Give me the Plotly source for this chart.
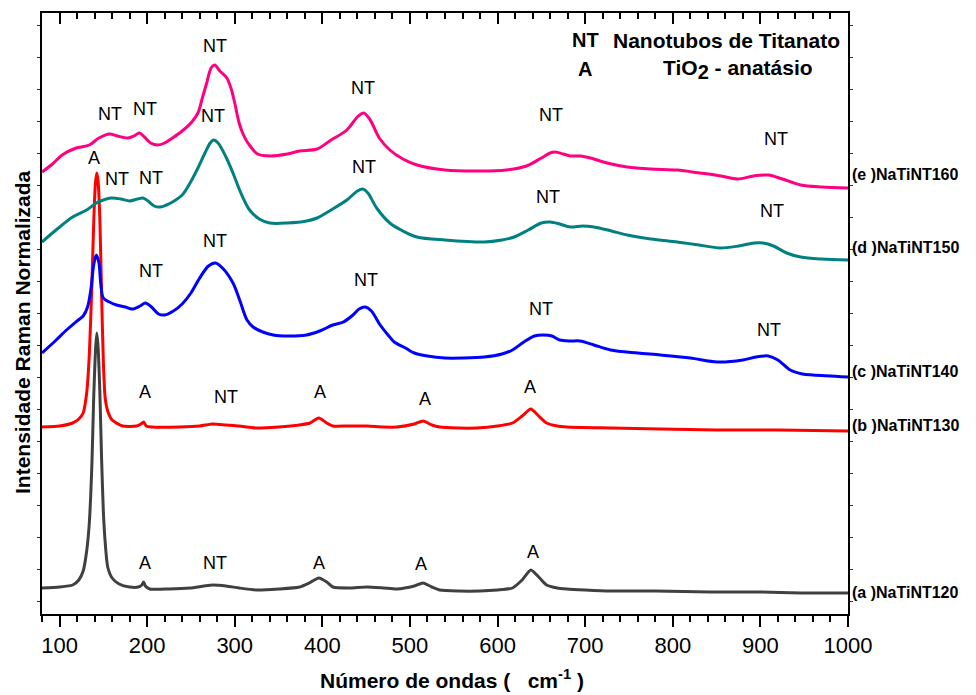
import plotly.graph_objects as go

# Raman shift (cm-1) and stacked, normalized intensities (arbitrary offsets)
x_a = [80, 100, 115, 122, 127, 131, 134, 137, 139, 141, 142.5, 144, 146, 148, 150, 152, 155, 160, 168, 180,
       190, 194, 196, 198, 203, 225, 249, 265, 275, 290, 305, 325, 350, 374, 385, 396, 405, 412, 430, 451,
       470, 485, 505, 515, 525, 534, 555, 580, 600, 617, 628, 638, 648, 656, 668, 679, 700, 729, 780, 843,
       900, 946, 1000]
y_a = [25, 26, 28, 33, 42, 62, 90, 150, 215, 262, 280, 266, 222, 155, 102, 72, 46, 35, 29, 26,
       26, 28, 31, 27, 24, 24, 25, 27, 28, 27, 25, 23, 24, 26, 30, 35, 31, 26, 25, 26,
       25, 24, 27, 30, 26, 23, 22, 22, 23, 25, 33, 43, 35, 28, 25, 24, 23, 22, 22, 21,
       21, 20, 20]

x_b = [80, 100, 115, 122, 127, 131, 134, 137, 139, 141, 142.5, 144, 146, 148, 150, 152, 155, 160, 172, 188,
       193, 196, 199, 205, 237, 260, 275, 290, 305, 325, 350, 374, 386, 396, 405, 412, 430, 451, 470, 485,
       505, 515, 525, 534, 555, 576, 600, 617, 628, 638, 647, 656, 668, 679, 729, 786, 850, 920, 1000]
y_b = [186, 187, 190, 194, 200, 220, 258, 330, 390, 430, 440, 432, 395, 320, 252, 216, 202, 193, 187, 187,
       189, 191, 187, 186, 186, 187, 189, 188, 187, 185, 186, 188, 190, 195, 190, 187, 187, 187, 186, 186,
       189, 192, 188, 186, 185, 185, 187, 190, 197, 204, 197, 190, 187, 186, 185, 184, 183, 183, 182]

x_c = [80, 95, 108, 120, 127, 132, 136, 139, 142, 145, 147, 150, 157, 165, 175, 183, 192, 198, 205, 213,
       220, 230, 240, 250, 260, 270, 278, 286, 298, 306, 314, 321, 332, 344, 360, 382, 397, 412, 424, 435,
       442, 449, 456, 466, 475, 482, 495, 505, 520, 540, 560, 585, 605, 617, 630, 642, 652, 662, 671, 683,
       694, 710, 729, 760, 786, 820, 851, 880, 895, 909, 920, 934, 948, 960, 1000]
y_c = [260, 272, 283, 292, 297, 306, 325, 348, 358, 350, 330, 315, 311, 308, 306, 304, 307, 310, 306, 299,
       298, 302, 309, 320, 335, 347, 350, 345, 330, 312, 293, 286, 281, 278, 277, 278, 282, 288, 291, 298,
       304, 306, 302, 288, 278, 271, 265, 260, 257, 255, 255, 256, 259, 263, 271, 277, 278, 277, 273, 272,
       272, 268, 263, 260, 258, 255, 251, 253, 256, 257, 253, 243, 239, 238, 236]

x_d = [80, 96, 115, 131, 142, 150, 159, 170, 180, 189, 195, 201, 208, 215, 222, 229, 240, 249, 258, 266,
       272, 276, 281, 290, 298, 307, 317, 328, 340, 360, 382, 394, 410, 428, 440, 446, 452, 462, 477, 492,
       508, 540, 585, 605, 619, 635, 650, 660, 671, 683, 697, 710, 730, 748, 775, 805, 830, 854, 875, 893,
       903, 915, 930, 946, 970, 1000]
y_d = [371, 383, 396, 403, 410, 413, 415, 414, 412, 414, 415, 412, 407, 406, 408, 411, 418, 430, 445, 460,
       470, 473, 470, 456, 440, 420, 403, 394, 390, 390, 392, 395, 403, 413, 422, 424, 420, 405, 390, 382,
       376, 373, 371, 373, 376, 383, 390, 391, 389, 386, 387, 386, 382, 378, 374, 371, 368, 365, 367, 370,
       370, 367, 360, 356, 354, 353]

x_e = [80, 92, 103, 119, 134, 145, 157, 166, 178, 185, 191, 197, 204, 212, 220, 229, 240, 251, 258, 263,
       268, 273, 277, 283, 291, 296, 300, 305, 310, 315, 326, 340, 360, 374, 394, 410, 428, 440, 447, 454,
       465, 477, 492, 508, 540, 580, 610, 633, 650, 660, 666, 675, 683, 695, 706, 725, 748, 775, 805, 831,
       855, 874, 892, 909, 925, 946, 970, 1000]
y_e = [441, 449, 458, 465, 468, 475, 479, 477, 475, 477, 480, 476, 470, 468, 470, 475, 482, 491, 500, 515,
       530, 545, 548, 542, 535, 524, 510, 490, 478, 470, 459, 457, 459, 462, 464, 473, 483, 496, 500, 494,
       475, 463, 454, 448, 443, 442, 443, 447, 455, 460, 461, 459, 457, 457, 455, 450, 446, 444, 443, 440,
       437, 434, 437, 438, 434, 428, 426, 425]

series_x = [x_a, x_b, x_c, x_d, x_e]
series_y = [y_a, y_b, y_c, y_d, y_e]
series_colors = ["#404040", "#FF0000", "#0000FF", "#008080", "#FF0080"]
# sharp anatase spectra get a gentler spline so the 144 cm-1 band does not overshoot
series_smoothing = [0.6, 0.6, 0.9, 0.9, 0.9]

# Sample names written at the right of the frame, with their vertical level
sample_names = ["(a )NaTiNT120", "(b )NaTiNT130", "(c )NaTiNT140", "(d )NaTiNT150", "(e )NaTiNT160"]
sample_name_y = [21, 188, 242, 366, 439]

# Band assignments: (shift, level, label)
band_x = [158, 197, 278, 446, 661, 918,
          166, 204, 275, 447, 658, 913,
          139,
          204, 278, 450, 650, 910,
          197, 290, 397, 517, 637,
          197, 278, 396, 513, 640]
band_y = [499, 504, 567, 525, 498, 474,
          434, 435, 497, 446, 416, 402,
          455,
          342, 372, 333, 304, 283,
          221, 216, 221, 214, 226,
          50, 50, 50, 49, 61]
band_text = ["NT", "NT", "NT", "NT", "NT", "NT",
             "NT", "NT", "NT", "NT", "NT", "NT",
             "A",
             "NT", "NT", "NT", "NT", "NT",
             "A", "NT", "A", "A", "A",
             "A", "NT", "A", "A", "A"]

x_major = [100, 200, 300, 400, 500, 600, 700, 800, 900, 1000]

FONT = "Liberation Sans, Arial, sans-serif"

fig = go.Figure()
for xs, ys, col, sm in zip(series_x, series_y, series_colors, series_smoothing):
    fig.add_trace(go.Scatter(x=xs, y=ys, mode="lines",
                             line=dict(color=col, width=3, shape="spline", smoothing=sm),
                             hoverinfo="skip", showlegend=False))

# invisible trace so the top (mirrored) x axis is drawn
fig.add_trace(go.Scatter(x=[80, 1000], y=[0, 0], xaxis="x2", mode="lines",
                         line=dict(width=0), opacity=0, hoverinfo="skip", showlegend=False))

annotations = []
for bx, by, bt in zip(band_x, band_y, band_text):
    annotations.append(dict(x=bx, y=by, xref="x", yref="y", text=bt, showarrow=False,
                            xanchor="center", yanchor="middle",
                            font=dict(family=FONT, size=18, color="black")))

for name, ny in zip(sample_names, sample_name_y):
    annotations.append(dict(x=1.003, y=ny, xref="paper", yref="y", text="<b>" + name + "</b>",
                            showarrow=False, xanchor="left", yanchor="middle",
                            font=dict(family=FONT, size=16, color="black")))

# key in the upper right corner
annotations += [
    dict(x=700, y=573, xref="x", yref="y", text="<b>NT</b>", showarrow=False,
         font=dict(family=FONT, size=20, color="black")),
    dict(x=700, y=544, xref="x", yref="y", text="<b>A</b>", showarrow=False,
         font=dict(family=FONT, size=20, color="black")),
    dict(x=993, y=573, xref="x", yref="y", text="<b>Nanotubos de Titanato</b>", showarrow=False,
         xanchor="right", font=dict(family=FONT, size=21, color="black")),
    dict(x=875, y=544, xref="x", yref="y",
         text="<b>TiO<sub><span style='font-size:20px'>2</span></sub> - anatásio</b>", showarrow=False,
         font=dict(family=FONT, size=21, color="black")),
]

# axis titles
annotations += [
    dict(x=0.509, y=-0.108, xref="paper", yref="paper",
         text="<b>Número de ondas (   cm<sup>-1</sup> )</b>", showarrow=False,
         xanchor="center", yanchor="middle", font=dict(family=FONT, size=21, color="black")),
    dict(x=-0.025, y=0.469, xref="paper", yref="paper",
         text="<b>Intensidade Raman Normalizada</b>", showarrow=False, textangle=-90,
         xanchor="center", yanchor="middle", font=dict(family=FONT, size=21, color="black")),
]

fig.update_layout(
    width=976, height=695,
    margin=dict(l=42, r=128, t=13, b=81),
    paper_bgcolor="white", plot_bgcolor="white",
    showlegend=False,
    annotations=annotations,
    xaxis=dict(range=[80, 1000], tickvals=x_major, ticktext=[str(v) for v in x_major],
               ticks="outside", ticklen=11, tickwidth=2, tickcolor="black",
               minor=dict(tick0=0, dtick=20, ticks="outside", ticklen=6, tickwidth=2, tickcolor="black"),
               showline=True, linecolor="black", linewidth=2, mirror=False,
               showgrid=False, zeroline=False,
               tickfont=dict(family=FONT, size=22, color="black")),
    xaxis2=dict(range=[80, 1000], overlaying="x", side="top", matches="x",
                tickvals=x_major, showticklabels=False,
                ticks="inside", ticklen=11, tickwidth=2, tickcolor="black",
                minor=dict(tick0=0, dtick=20, ticks="inside", ticklen=6, tickwidth=2, tickcolor="black"),
                showline=True, linecolor="black", linewidth=2,
                showgrid=False, zeroline=False),
    yaxis=dict(range=[-1, 600], showticklabels=False,
               ticks="outside", ticklen=3, tickwidth=1, tickcolor="#333333", tick0=12, dtick=32,
               showline=True, linecolor="black", linewidth=2, mirror="ticks",
               showgrid=False, zeroline=False),
)

fig.write_html("out.html")
